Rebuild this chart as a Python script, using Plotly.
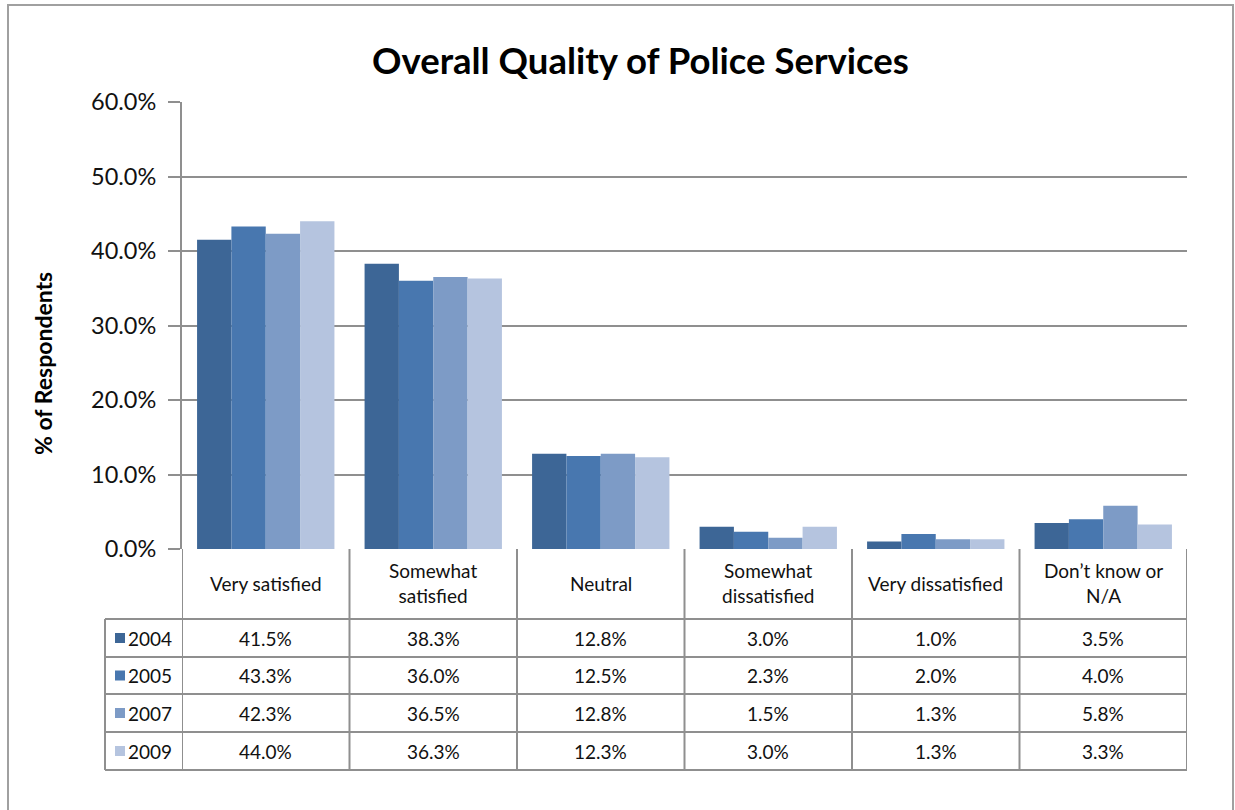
import plotly.graph_objects as go

categories = ["Very satisfied", "Somewhat<br>satisfied", "Neutral", "Somewhat<br>dissatisfied",
              "Very dissatisfied", "Don\u2019t know or<br>N/A"]
years = ["2004", "2005", "2007", "2009"]
v2004 = [41.5, 38.3, 12.8, 3.0, 1.0, 3.5]
v2005 = [43.3, 36.0, 12.5, 2.3, 2.0, 4.0]
v2007 = [42.3, 36.5, 12.8, 1.5, 1.3, 5.8]
v2009 = [44.0, 36.3, 12.3, 3.0, 1.3, 3.3]
series = [v2004, v2005, v2007, v2009]
colors = ["#3D6696", "#4877AF", "#7D9BC6", "#B5C4DF"]
y_ticks = [0, 10, 20, 30, 40, 50, 60]

W, H = 1235, 810
L, R, T, B = 182, 1187, 102, 549
FONT = "Lato, 'Open Sans', sans-serif"
GRID = "#8f8f8f"
TXT = "#111111"

def py(y):
    return (B - y) / (B - T)

def pxp(x):
    return (x - L) / (R - L)

fig = go.Figure()
xs = list(range(len(categories)))
for yr, vals, c in zip(years, series, colors):
    fig.add_trace(go.Bar(x=xs, y=[v / 100 for v in vals], name=yr, marker=dict(color=c, line=dict(width=0)),
                         showlegend=False, hoverinfo="y"))

shapes = []
annotations = []
row_lines = [619, 657, 694, 732, 770]
n = len(categories)
for i in range(n + 1):
    shapes.append(dict(type="line", xref="x", yref="paper", x0=i - 0.5, x1=i - 0.5,
                       y0=py(B), y1=py(row_lines[-1]), line=dict(color=GRID, width=2)))
shapes.append(dict(type="line", xref="paper", yref="paper", x0=pxp(105), x1=pxp(105),
                   y0=py(row_lines[0]), y1=py(row_lines[-1]), line=dict(color=GRID, width=2)))
for r in row_lines:
    shapes.append(dict(type="line", xref="paper", yref="paper", x0=pxp(105), x1=1,
                       y0=py(r), y1=py(r), line=dict(color=GRID, width=2)))
shapes.append(dict(type="rect", xref="paper", yref="paper", x0=pxp(8), x1=pxp(1233),
                   y0=py(830), y1=py(5), line=dict(color="#a0a0a0", width=2), layer="below"))

FS = 19
for i, cat in enumerate(categories):
    annotations.append(dict(x=i, xref="x", y=py((B + row_lines[0]) / 2 - 1), yref="paper",
                            text=cat, showarrow=False, font=dict(family=FONT, size=FS, color=TXT),
                            xanchor="center", yanchor="middle"))
for k, (yr, vals, c) in enumerate(zip(years, series, colors)):
    top, bot = row_lines[k], row_lines[k + 1]
    ymid = py((top + bot) / 2)
    shapes.append(dict(type="rect", xref="paper", yref="paper", x0=pxp(115), x1=pxp(125),
                       y0=ymid - 5 / (B - T), y1=ymid + 5 / (B - T), fillcolor=c, line=dict(width=0)))
    annotations.append(dict(x=pxp(126), xref="paper", y=ymid, yref="paper", text=yr, showarrow=False,
                            xanchor="left", yanchor="middle", font=dict(family=FONT, size=FS, color=TXT)))
    for i, v in enumerate(vals):
        annotations.append(dict(x=i, xref="x", y=ymid, yref="paper", text=f"{v:.1f}%", showarrow=False,
                                xanchor="center", yanchor="middle",
                                font=dict(family=FONT, size=FS, color=TXT)))

annotations.append(dict(x=pxp(640), xref="paper", y=py(60), yref="paper",
                        text="<b>Overall Quality of Police Services</b>",
                        showarrow=False, xanchor="center", yanchor="middle",
                        font=dict(family=FONT, size=36.5, color="#000000")))
annotations.append(dict(x=pxp(43), xref="paper", y=py(364), yref="paper", text="<b>% of Respondents</b>",
                        showarrow=False, xanchor="center", yanchor="middle", textangle=-90,
                        font=dict(family=FONT, size=23, color="#000000")))

fig.update_layout(
    width=W, height=H,
    margin=dict(l=L, r=W - R, t=T, b=H - B, pad=0),
    paper_bgcolor="white", plot_bgcolor="white",
    barmode="group", bargap=0.18, bargroupgap=0,
    xaxis=dict(range=[-0.5, n - 0.5], showticklabels=False, showgrid=False, zeroline=False,
               ticks="", fixedrange=True),
    yaxis=dict(range=[0, 0.6], tickvals=[t / 100 for t in y_ticks], tickformat=".1%",
               showgrid=True, gridcolor=GRID, gridwidth=2, zeroline=False,
               showline=True, linecolor=GRID, linewidth=2,
               ticks="outside", ticklen=12, tickcolor=GRID, tickwidth=2,
               ticklabelstandoff=7,
               tickfont=dict(family=FONT, size=23.5, color=TXT)),
    shapes=shapes, annotations=annotations,
)

fig.write_html("out.html", config={"displayModeBar": False},
               post_script="document.body.style.margin='0';document.body.style.overflow='hidden';")
